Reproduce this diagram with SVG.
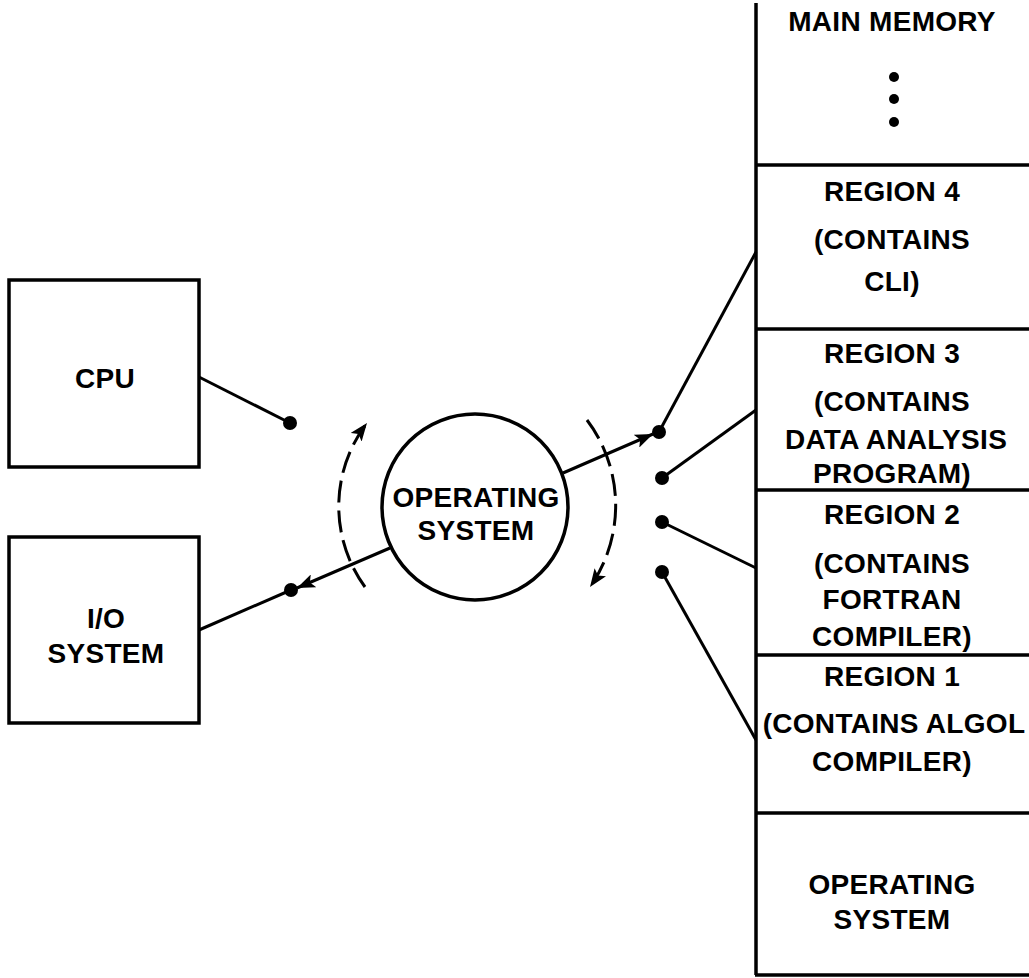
<svg xmlns="http://www.w3.org/2000/svg" width="1029" height="978" viewBox="0 0 1029 978">
<style>
.box{fill:none;stroke:#000;stroke-width:3.5}
.ln{fill:none;stroke:#000;stroke-width:3}
.dash{fill:none;stroke:#000;stroke-width:3;stroke-dasharray:22 8}
.dot{fill:#000}
text{font-family:"Liberation Sans",Arial,sans-serif;font-weight:bold;font-size:28px;letter-spacing:0.3px;text-anchor:middle;fill:#000}
</style>
<defs>
<marker id="ah" viewBox="0 0 18 14" refX="18" refY="7" markerWidth="18" markerHeight="14" markerUnits="userSpaceOnUse" orient="auto">
<path d="M0,0 L18,7 L0,14 L4,7 Z" fill="#000"/>
</marker>
</defs>
<rect width="1029" height="978" fill="#fff"/>
<g id="cpu">
<rect class="box" x="9" y="280" width="190" height="187"/>
<text x="105" y="388">CPU</text>
</g>
<g id="io">
<rect class="box" x="9" y="537" width="190" height="186"/>
<text x="106" y="628">I/O</text>
<text x="106" y="663">SYSTEM</text>
</g>
<g id="os">
<circle class="box" cx="475" cy="507" r="93"/>
<text x="476" y="507">OPERATING</text>
<text x="476" y="540">SYSTEM</text>
</g>
<g id="memory">
<line class="box" x1="756" y1="3" x2="756" y2="975"/>
<line class="box" x1="755" y1="975" x2="1029" y2="975"/>
<line class="box" x1="756" y1="165" x2="1029" y2="165"/>
<line class="box" x1="756" y1="329" x2="1029" y2="329"/>
<line class="box" x1="756" y1="490" x2="1029" y2="490"/>
<line class="box" x1="756" y1="655" x2="1029" y2="655"/>
<line class="box" x1="756" y1="813" x2="1029" y2="813"/>
<text x="892" y="31">MAIN MEMORY</text>
<circle class="dot" cx="894" cy="77" r="5"/>
<circle class="dot" cx="894" cy="99" r="5"/>
<circle class="dot" cx="894" cy="122" r="5"/>
<text x="892" y="201">REGION 4</text>
<text x="892" y="249">(CONTAINS</text>
<text x="892" y="291">CLI)</text>
<text x="892" y="363">REGION 3</text>
<text x="892" y="411">(CONTAINS</text>
<text x="896" y="449">DATA ANALYSIS</text>
<text x="892" y="483">PROGRAM)</text>
<text x="892" y="524">REGION 2</text>
<text x="892" y="573">(CONTAINS</text>
<text x="892" y="609">FORTRAN</text>
<text x="892" y="646">COMPILER)</text>
<text x="892" y="686">REGION 1</text>
<text x="894" y="733">(CONTAINS ALGOL</text>
<text x="892" y="771">COMPILER)</text>
<text x="892" y="894">OPERATING</text>
<text x="892" y="929">SYSTEM</text>
</g>
<g id="connectors">
<line class="ln" x1="199" y1="377" x2="290" y2="423"/>
<circle class="dot" cx="290" cy="423" r="7"/>
<line class="ln" x1="199" y1="630" x2="291" y2="590"/>
<circle class="dot" cx="291" cy="590" r="7"/>
<line class="ln" x1="390" y1="548" x2="297" y2="588" marker-end="url(#ah)"/>
<line class="ln" x1="563" y1="473" x2="653" y2="434" marker-end="url(#ah)"/>
<circle class="dot" cx="659" cy="432" r="7"/>
<line class="ln" x1="659" y1="432" x2="756" y2="252"/>
<circle class="dot" cx="662" cy="478" r="7"/>
<line class="ln" x1="662" y1="478" x2="756" y2="410"/>
<circle class="dot" cx="662" cy="522" r="7"/>
<line class="ln" x1="662" y1="522" x2="756" y2="568"/>
<circle class="dot" cx="662" cy="572" r="7"/>
<line class="ln" x1="662" y1="572" x2="756" y2="740"/>
<path class="dash" d="M365,587 A137,137 0 0 1 367,423" marker-end="url(#ah)"/>
<path class="dash" d="M587,420 A142,142 0 0 1 590,587" marker-end="url(#ah)"/>
</g>
</svg>
